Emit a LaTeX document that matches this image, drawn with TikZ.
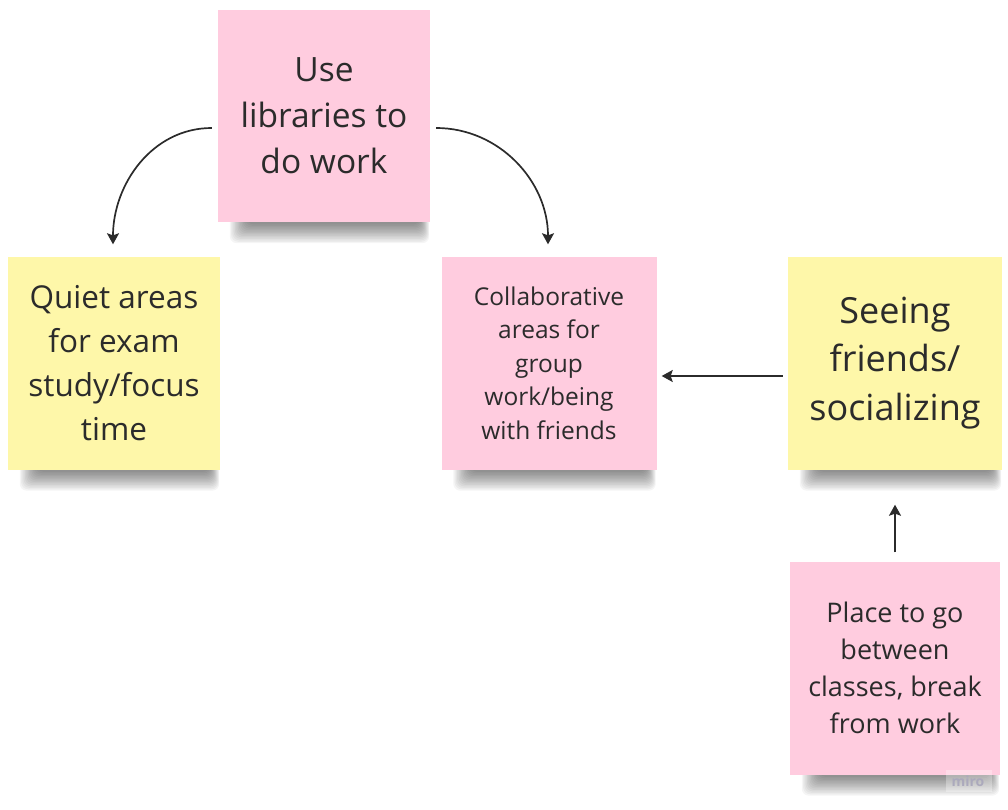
\documentclass[tikz,border=0pt]{standalone}
\usepackage{fontspec}
\setmainfont{Open Sans}
\usetikzlibrary{arrows.meta,calc,backgrounds}
\definecolor{notepink}{HTML}{FFCCDF}
\definecolor{noteyellow}{HTML}{FEF7A9}
\definecolor{inkc}{HTML}{2B2B2B}
\definecolor{wmc}{HTML}{ABA9BC}
\tikzset{
  note/.style={rectangle, inner sep=0pt, align=center, text=inkc},
  pinknote/.style={note, fill=notepink},
  yellownote/.style={note, fill=noteyellow},
  arr/.style={draw=inkc, line width=1.7pt, -{Stealth[length=11pt,width=12pt,inset=2pt]}},
  shadowpiece/.style={fill=black, fill opacity=0.04, rounded corners=7pt},
}
\newcommand{\noteshadow}[1]{%
  \foreach \i in {0,...,13}{%
    \fill[shadowpiece] ($(#1.south west)+(12+1.3*\i,-6)$) rectangle ($(#1.south east)+(-1-0.7*\i,21-1.45*\i)$);
  }%
}
\begin{document}
\begin{tikzpicture}[x=1pt,y=-1pt]
\useasboundingbox (0,0) rectangle (1008,810);
\node[pinknote, minimum width=212pt, minimum height=212pt, font=\fontsize{33.5}{46}\selectfont] (n1) at (324,116) {Use\\libraries to\\do work};
\node[yellownote, minimum width=212pt, minimum height=213pt, font=\fontsize{31.5}{44}\selectfont] (n2) at (114,363) {Quiet areas\\for exam\\study/focus\\time};
\node[pinknote, minimum width=215pt, minimum height=213pt, font=\fontsize{24.5}{33.5}\selectfont] (n3) at (549,363) {Collaborative\\areas for\\group\\work/being\\with friends};
\node[yellownote, minimum width=214pt, minimum height=213pt, font=\fontsize{36}{48.5}\selectfont] (n4) at (895,363) {Seeing\\friends/\\socializing};
\node[pinknote, minimum width=210pt, minimum height=213pt, font=\fontsize{27}{37}\selectfont] (n5) at (895,668) {Place to go\\between\\classes, break\\from work};
\begin{scope}[on background layer]
  \noteshadow{n1}
  \noteshadow{n2}
  \noteshadow{n3}
  \noteshadow{n4}
  \noteshadow{n5}
\end{scope}
\fill[white, fill opacity=0.3] (946,770) rectangle (992,792);
\node[text=wmc, font=\bfseries\fontsize{14}{16}\selectfont, inner sep=0pt] (wm) at (968,781) {miro};
\coordinate (a1s) at ([xshift=-6pt,yshift=-12pt]n1.west);
\coordinate (a1e) at ([xshift=-1pt,yshift=12pt]n2.north);
\coordinate (a2s) at ([xshift=6pt,yshift=-12pt]n1.east);
\coordinate (a2e) at ([xshift=-1pt,yshift=12pt]n3.north);
\draw[arr] (a1s) to[out=180,in=90] (a1e);
\draw[arr] (a2s) to[out=0,in=90] (a2e);
\draw[arr] ([xshift=-5pt,yshift=-13pt]n4.west) -- ([xshift=5pt,yshift=-13pt]n3.east);
\draw[arr] ([yshift=9pt]n5.north) -- ([yshift=-35pt]n4.south);
\end{tikzpicture}
\end{document}
